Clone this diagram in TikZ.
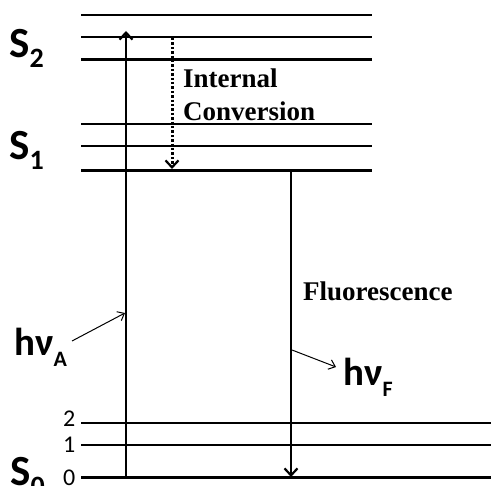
\documentclass[tikz,border=0pt]{standalone}
\usepackage{fontspec}
\setmainfont{Liberation Serif}
\newfontfamily\calfont{Carlito}
\usetikzlibrary{arrows.meta}
\begin{document}
\begin{tikzpicture}[x=1pt,y=-1pt,
  thinlvl/.style={line width=1.4pt},
  thicklvl/.style={line width=3pt},
  trans/.style={line width=2.6pt,-{Straight Barb[length=7pt,width=13pt,line width=2.2pt]}},
  pointer/.style={line width=1pt,-{Straight Barb[length=6pt,width=10pt,line width=1pt]}},
  statelbl/.style={anchor=base west,inner sep=0pt,font=\calfont\bfseries\fontsize{43}{43}\selectfont},
  photon/.style={anchor=base west,inner sep=0pt,font=\calfont\bfseries\fontsize{39}{39}\selectfont},
  vib/.style={anchor=base west,inner sep=0pt,font=\calfont\fontsize{24}{24}\selectfont},
  proc/.style={anchor=base west,inner sep=0pt,font=\bfseries\fontsize{27}{27}\selectfont}]
\clip (0,0) rectangle (491,486);
\useasboundingbox (0,0) rectangle (491,486);
\fill[white] (0,0) rectangle (491,486);
% S2 levels
\draw[thinlvl] (81,15) -- (372,15);
\draw[thinlvl] (81,37) -- (372,37);
\draw[thicklvl] (81,60) -- (372,60);
% S1 levels
\draw[thinlvl] (81,124) -- (372,124);
\draw[thinlvl] (81,146) -- (372,146);
\draw[thicklvl] (81,171) -- (372,171);
% S0 levels
\draw[thinlvl] (81,423) -- (491,423);
\draw[thinlvl] (81,445) -- (491,445);
\draw[thicklvl] (81,478) -- (491,478);
% state labels
\node[statelbl] (s2) at (9,58) {S\raisebox{-10pt}{\fontsize{28}{28}\selectfont 2}};
\node[statelbl] (s1) at (9,160) {S\raisebox{-10pt}{\fontsize{28}{28}\selectfont 1}};
\node[statelbl] (s0) at (10,486) {S\raisebox{-10pt}{\fontsize{28}{28}\selectfont 0}};
% vibrational numbers
\node[vib] (v2) at (63,427) {2};
\node[vib] (v1) at (63,453) {1};
\node[vib] (v0) at (63,486) {0};
% coordinates
\coordinate (absB) at (126,478);
\coordinate (absT) at (126,31);
\coordinate (icT) at (172,38);
\coordinate (icB) at (172,169);
\coordinate (flT) at (291,172);
\coordinate (flB) at (291,477);
\coordinate (pa1) at (72,341);
\coordinate (pa2) at (125,313);
\coordinate (pf1) at (292,350);
\coordinate (pf2) at (336,367);
% transitions
\draw[trans] (absB) -- (absT);
\draw[trans,line width=3pt,dash pattern=on 2.4pt off 2pt] (icT) -- (icB);
\draw[trans] (flT) -- (flB);
\draw[pointer] (pa1) -- (pa2);
\draw[pointer] (pf1) -- (pf2);
% photon labels
\node[photon] (hva) at (14,356) {hν\raisebox{-11pt}{\fontsize{22}{22}\selectfont A}};
\node[photon] (hvf) at (343,386) {hν\raisebox{-11pt}{\fontsize{22}{22}\selectfont F}};
% process labels
\node[proc] (ic1) at (183,88) {Internal};
\node[proc] (ic2) at (183,121) {Conversion};
\node[proc] (fl) at (303,301) {Fluorescence};
\end{tikzpicture}
\end{document}
